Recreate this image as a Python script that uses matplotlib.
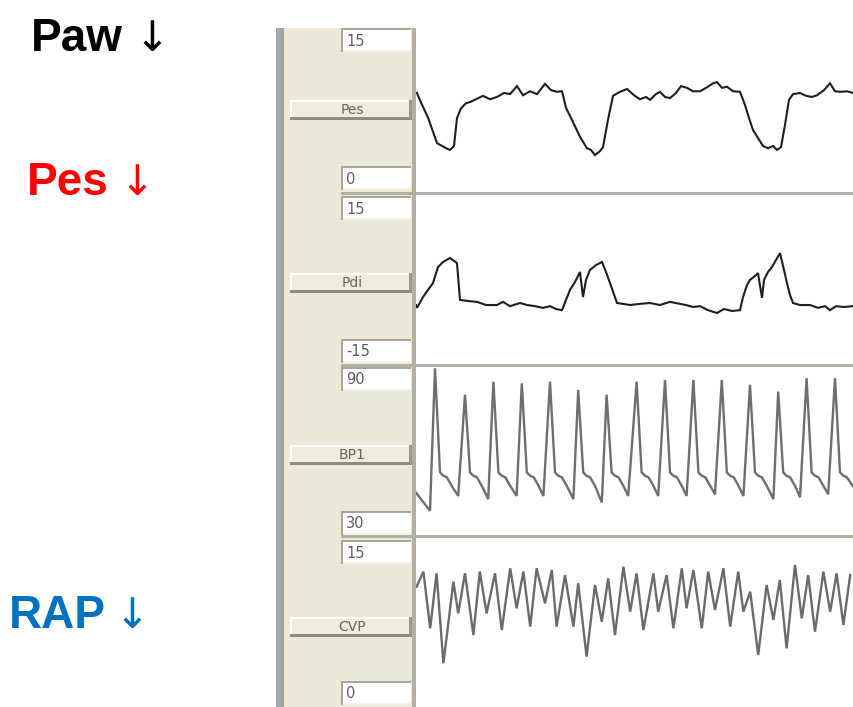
import matplotlib
matplotlib.use('Agg')
import matplotlib.pyplot as plt
from matplotlib.patches import Rectangle

W, H = 854, 707

# --- traces (time in s, pressure in channel units) ---
pes_t = [0.05, 0.125, 0.33, 0.55, 0.675, 0.78, 0.875, 0.975, 1.05, 1.15, 1.275, 1.375,
         1.525, 1.7, 1.875, 2.05, 2.225, 2.375, 2.55, 2.7, 2.875, 3.05, 3.25, 3.4, 3.55,
         3.675, 3.775, 3.95, 4.125, 4.3, 4.4, 4.5, 4.625, 4.7, 4.825, 4.95, 5.125, 5.3,
         5.475, 5.625, 5.775, 5.875, 6.025, 6.125, 6.25, 6.375, 6.525, 6.65, 6.8, 6.95,
         7.125, 7.3, 7.45, 7.55, 7.675, 7.8, 7.95, 8.125, 8.25, 8.35, 8.45, 8.575, 8.7,
         8.825, 8.95, 9.05, 9.15, 9.25, 9.35, 9.45, 9.625, 9.775, 9.925, 10.05, 10.225,
         10.375, 10.5, 10.65, 10.8, 10.95]
pes_v = [8.95, 8.3, 6.75, 4.55, 4.3, 4.1, 3.95, 4.3, 6.75, 7.6, 8.05, 8.15,
         8.4, 8.7, 8.4, 8.6, 8.95, 8.85, 9.55, 8.75, 9.1, 8.85, 9.75, 9.2, 9.05,
         9.1, 7.65, 6.4, 5.1, 4.1, 3.95, 3.5, 3.85, 4.2, 6.6, 8.7, 9.05, 9.3,
         8.75, 8.4, 8.6, 8.35, 8.85, 9.05, 8.6, 8.5, 8.95, 9.55, 9.4, 9.1,
         9.1, 9.45, 9.8, 9.9, 9.4, 9.5, 9.1, 9.05, 7.9, 6.75, 5.7, 5.0, 4.3,
         4.1, 4.3, 3.95, 4.2, 6.15, 8.35, 8.85, 8.95, 8.7, 8.6, 8.75, 9.2,
         9.8, 9.1, 9.05, 9.1, 8.95]

pdi_t = [0.025, 0.05, 0.2, 0.325, 0.45, 0.575, 0.7, 0.875, 1.05, 1.125, 1.325, 1.55,
         1.775, 2.05, 2.2, 2.375, 2.625, 2.8, 3.0, 3.2, 3.375, 3.525, 3.675, 3.775,
         3.875, 4.0, 4.125, 4.2, 4.275, 4.375, 4.525, 4.675, 4.775, 4.875, 5.05, 5.2,
         5.375, 5.625, 5.875, 6.125, 6.375, 6.625, 6.775, 6.95, 7.125, 7.325, 7.55,
         7.725, 7.925, 8.125, 8.2, 8.3, 8.375, 8.5, 8.575, 8.675, 8.725, 8.825, 8.925,
         9.025, 9.125, 9.225, 9.3, 9.375, 9.45, 9.625, 9.875, 10.075, 10.25, 10.375,
         10.525, 10.725, 10.95]
pdi_v = [-4.3, -4.8, -2.9, -1.65, -0.45, 2.35, 3.25, 3.95, 3.05, -3.4, -3.6, -3.75,
         -4.3, -4.3, -3.75, -4.5, -3.95, -4.3, -4.5, -4.8, -4.5, -5.0, -5.2, -3.4,
         -1.65, -0.25, 1.5, -2.9, 0.1, 1.85, 2.7, 3.25, 1.5, -0.45, -3.95, -4.1,
         -4.3, -4.1, -3.95, -4.3, -3.75, -4.1, -4.3, -4.65, -4.5, -5.2, -5.7,
         -5.0, -5.35, -5.2, -2.9, -0.8, 0.1, 0.8, 1.3, -3.05, 0.1, 1.5, 2.35,
         3.6, 4.8, 1.85, -0.45, -2.55, -3.95, -4.3, -4.3, -4.8, -4.5, -5.2,
         -4.5, -4.65, -4.5]

bp_t = [0.0, 0.375, 0.5, 0.625, 0.7, 0.8, 0.925,
        1.08, 1.25, 1.375, 1.45, 1.55, 1.675,
        1.83, 1.96, 2.085, 2.16, 2.26, 2.385,
        2.54, 2.67, 2.795, 2.87, 2.97, 3.095,
        3.21, 3.375, 3.5, 3.575, 3.675, 3.8,
        3.96, 4.08, 4.205, 4.28, 4.38, 4.505,
        4.67, 4.79, 4.915, 4.99, 5.09, 5.215,
        5.33, 5.54, 5.665, 5.74, 5.84, 5.965,
        6.08, 6.25, 6.375, 6.45, 6.55, 6.675,
        6.79, 6.96, 7.085, 7.16, 7.26, 7.385,
        7.5, 7.67, 7.795, 7.87, 7.97, 8.095,
        8.21, 8.375, 8.5, 8.575, 8.675, 8.8,
        8.96, 9.08, 9.205, 9.28, 9.38, 9.505,
        9.625, 9.79, 9.915, 9.99, 10.09, 10.215,
        10.33, 10.5, 10.625, 10.7, 10.8, 10.95]
bp_v = [46.0, 39.2, 89.2, 52.7, 51.6, 50.9, 47.8,
        44.4, 79.9, 52.7, 51.6, 50.9, 47.8,
        43.3, 84.5, 52.7, 51.6, 50.9, 47.8,
        44.4, 83.9, 52.7, 51.6, 50.9, 47.8,
        44.4, 84.5, 52.7, 51.6, 50.9, 47.8,
        43.3, 81.6, 52.7, 51.6, 50.9, 47.8,
        42.1, 79.9, 52.7, 51.6, 50.9, 47.8,
        44.4, 84.5, 52.7, 51.6, 50.9, 47.8,
        44.4, 85.1, 52.7, 51.6, 50.9, 47.8,
        44.4, 85.1, 52.7, 51.6, 50.9, 47.8,
        45.0, 85.1, 52.7, 51.6, 50.9, 47.8,
        44.4, 83.4, 52.7, 51.6, 50.9, 47.8,
        43.3, 81.0, 52.7, 51.6, 50.9, 47.8,
        43.9, 85.7, 52.7, 51.6, 50.9, 47.8,
        45.0, 85.7, 52.7, 51.6, 50.9, 47.8]

cvp_t = [0.04, 0.21, 0.38, 0.54, 0.71, 0.96, 1.08, 1.25, 1.46, 1.62, 1.79, 2.0, 2.17,
         2.38, 2.54, 2.71, 2.88, 3.04, 3.25, 3.42, 3.54, 3.75, 3.96, 4.08, 4.29, 4.5,
         4.67, 4.83, 5.0, 5.21, 5.38, 5.54, 5.71, 5.96, 6.08, 6.29, 6.46, 6.67, 6.79,
         6.96, 7.17, 7.33, 7.5, 7.71, 7.88, 8.08, 8.21, 8.38, 8.58, 8.79, 8.96, 9.12,
         9.29, 9.5, 9.67, 9.83, 10.0, 10.21, 10.38, 10.54, 10.71, 10.88]
cvp_v = [10.73, 12.05, 7.08, 11.9, 4.01, 11.17, 8.39, 11.9, 6.49, 12.05, 8.39, 11.9, 6.93,
         12.34, 8.83, 12.05, 7.22, 12.34, 9.27, 12.19, 7.22, 11.75, 7.22, 11.03, 4.59, 10.88,
         7.66, 11.46, 6.49, 12.48, 8.54, 11.9, 6.93, 11.9, 8.54, 11.75, 7.08, 12.34, 8.83,
         12.19, 7.08, 12.05, 8.68, 12.34, 7.22, 12.05, 8.54, 10.29, 4.74, 10.88, 7.81, 11.32,
         5.32, 12.63, 7.95, 11.75, 6.78, 12.05, 8.54, 11.9, 7.37, 11.75]

channel_names = ['Pes', 'Pdi', 'BP1', 'CVP']
scale_top = ['15', '15', '90', '15']
scale_bottom = ['0', '-15', '30', '0']
ylims = [(0, 15), (-15, 15), (30, 90), (0, 15)]
traces = [(pes_t, pes_v), (pdi_t, pdi_v), (bp_t, bp_v), (cvp_t, cvp_v)]
trace_colors = ['#1e1e1e', '#1e1e1e', '#6e6e6e', '#6a6a6a']
trace_widths = [1.5, 1.5, 1.7, 1.7]

# --- layout (pixels) ---
ch_top = [24, 195, 366, 538]
ch_h = 171
top_box_y = [28, 196, 367, 540]
bot_box_y = [166, 339, 511, 681]
bar_y = [100, 273, 445, 617]
sep_y = [192, 364, 535]

fig = plt.figure(figsize=(W / 100, H / 100), dpi=100)
fig.patch.set_facecolor('white')


def rect(x, y, w, h, color, z=1):
    fig.add_artist(Rectangle((x / W, 1 - (y + h) / H), w / W, h / H,
                             transform=fig.transFigure, facecolor=color,
                             edgecolor='none', zorder=z))


# side panel
rect(276, 28, 5, H - 28, '#a1a9b4')
rect(281, 28, 3, H - 28, '#a9a596')
rect(284, 28, 128, H - 28, '#ece9d8')
rect(412, 28, 4, H - 28, '#b3b0a1')

for y in sep_y:
    rect(341, y, W - 341, 3, '#b3b0a1')

for i in range(4):
    for y, txt in ((top_box_y[i], scale_top[i]), (bot_box_y[i], scale_bottom[i])):
        rect(341, y, 70, 24, '#a8a699', 2)
        rect(343, y + 2, 68, 22, 'white', 2)
        rect(343, y + 22, 68, 2, '#f3f1e6', 2)
        fig.text(346 / W, 1 - (y + 13) / H, txt, fontsize=10.5, color='#5c5c5c',
                 va='center', ha='left', family='DejaVu Sans', zorder=3)
    by = bar_y[i]
    rect(290, by, 122, 19, '#efecdd', 2)
    rect(290, by, 122, 2, '#fbfaf4', 2)
    rect(290, by, 2, 19, '#fbfaf4', 2)
    rect(290, by + 17, 122, 3, '#8e8c7f', 2)
    rect(409, by, 3, 19, '#9a988a', 2)
    fig.text(352 / W, 1 - (by + 10) / H, channel_names[i], fontsize=10, color='#66665a',
             va='center', ha='center', family='DejaVu Sans', zorder=3)

    ax = fig.add_axes([416 / W, 1 - (ch_top[i] + ch_h) / H, (W - 416) / W, ch_h / H])
    ax.set_xlim(0.025, 10.975)
    ax.set_ylim(*ylims[i])
    ax.axis('off')
    ax.patch.set_alpha(0)
    t, v = traces[i]
    ax.plot(t, v, color=trace_colors[i], lw=trace_widths[i], solid_joinstyle='miter')

# slide annotations
fam = ['Liberation Sans', 'DejaVu Sans']
fig.text(31 / W, 1 - 51 / H, 'Paw', fontsize=33, fontweight='bold', color='black', family=fam)
fig.text(134 / W, 1 - 51 / H, '↓', fontsize=30, color='black', family='DejaVu Sans')
fig.text(27 / W, 1 - 195 / H, 'Pes', fontsize=33, fontweight='bold', color='#ff0000', family=fam)
fig.text(119 / W, 1 - 195 / H, '↓', fontsize=30, color='#ff0000', family='DejaVu Sans')
fig.text(9 / W, 1 - 628 / H, 'RAP', fontsize=33, fontweight='bold', color='#0070c0', family=fam)
fig.text(114 / W, 1 - 628 / H, '↓', fontsize=30, color='#0070c0', family='DejaVu Sans')

fig.savefig('out.png', dpi=100)
